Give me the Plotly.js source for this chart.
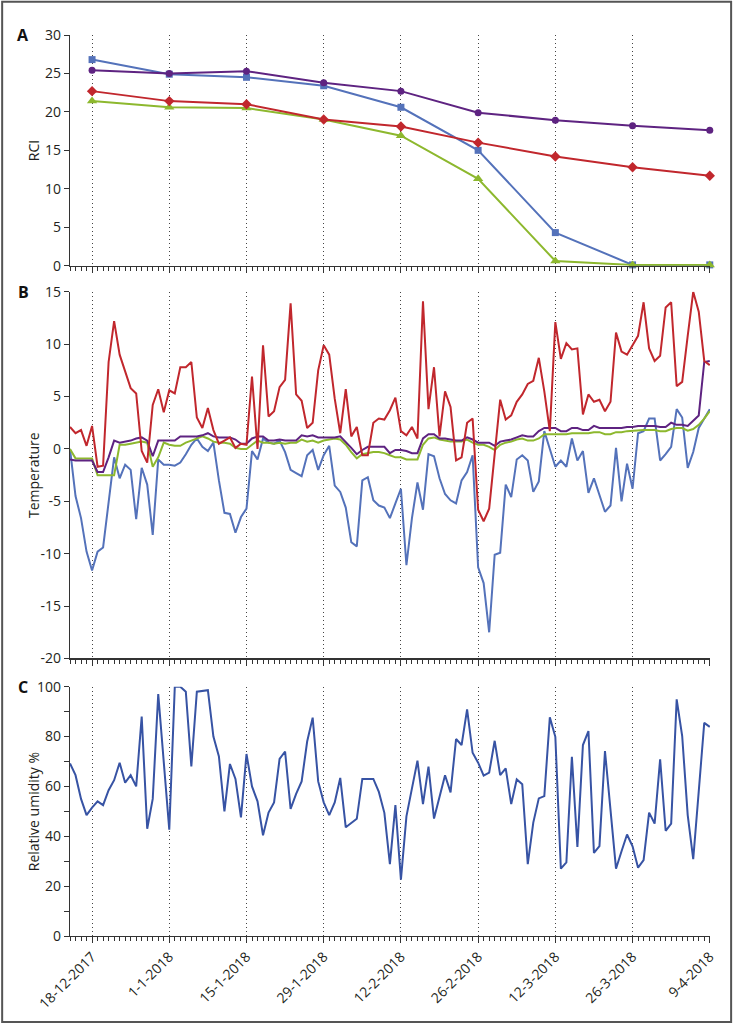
<!DOCTYPE html>
<html>
<head>
<meta charset="utf-8">
<script src="https://cdn.plot.ly/plotly-3.0.1.min.js"></script>
<style>
  html, body { margin: 0; padding: 0; background: #fff; }
  #chart { width: 733px; height: 1025px; }
</style>
</head>
<body>
<div id="chart"></div>
<script>
// ---------- DATA ----------
const rciDates = ['2017-12-18','2018-01-01','2018-01-15','2018-01-29','2018-02-12','2018-02-26','2018-03-12','2018-03-26','2018-04-09'];
const rciBlue   = [26.8, 24.9, 24.5, 23.4, 20.6, 15.0, 4.3, 0.1, 0.1];
const rciPurple = [25.4, 25.0, 25.3, 23.8, 22.7, 19.9, 18.9, 18.2, 17.6];
const rciRed    = [22.7, 21.4, 21.0, 19.0, 18.1, 16.0, 14.2, 12.8, 11.7];
const rciGreen  = [21.4, 20.6, 20.5, 19.0, 16.9, 11.3, 0.6, 0.1, 0.1];

const firstDay = '2017-12-14';
const dayCount = 117;

const tempRed = [2.1,1.5,1.8,0.3,2.2,-1.7,-1.6,8.3,12.2,9.0,
 7.4,5.8,5.3,-0.2,-1.3,4.2,5.7,3.5,5.6,5.3,
 7.8,7.8,8.3,3.0,2.0,3.9,1.8,0.5,0.8,1.1,
 0.1,0.5,0.4,6.9,0.0,9.9,3.1,3.6,5.9,6.6,
 13.9,5.2,4.6,2.0,2.5,7.5,9.9,9.0,4.8,1.5,
 5.7,1.2,2.1,-0.6,-0.6,2.5,2.9,2.8,3.7,4.9,
 1.7,1.3,2.1,1.0,14.1,3.8,7.8,1.2,5.5,4.0,
 -1.1,-0.8,2.5,2.9,-5.8,-6.9,-5.7,-0.5,4.7,2.8,
 3.2,4.5,5.2,6.2,6.5,8.7,5.5,1.7,12.1,8.6,
 10.1,9.5,9.6,3.3,5.2,4.5,4.7,3.6,4.5,11.1,
 9.3,9.0,9.9,10.8,14.0,9.6,8.4,8.9,13.5,14.0,
 6.0,6.4,10.8,15.0,13.1,8.4,8.0];

const tempBlue = [0.0,-4.5,-6.6,-9.8,-11.6,-9.8,-9.4,-4.8,-0.8,-2.8,
 -1.5,-2.0,-6.7,-1.8,-3.4,-8.2,-1.0,-1.5,-1.5,-1.6,
 -1.3,-0.5,0.4,1.0,0.2,-0.2,0.6,-3.0,-6.1,-6.2,
 -8.0,-6.5,-5.7,-0.2,-1.0,1.0,0.6,0.5,0.8,-0.3,
 -2.0,-2.3,-2.6,-0.6,-0.1,-2.0,-0.6,0.3,-3.5,-4.1,
 -5.6,-8.9,-9.3,-3.0,-2.7,-4.9,-5.4,-5.6,-6.6,-5.2,
 -3.8,-11.1,-6.6,-3.2,-5.8,-0.5,-0.7,-2.8,-4.3,-4.9,
 -5.2,-3.0,-2.2,-0.6,-11.3,-12.8,-17.5,-10.1,-9.9,-3.4,
 -4.6,-1.0,-0.6,-1.1,-4.1,-3.1,1.7,0.0,-1.7,-1.1,
 -1.7,1.0,-1.1,-0.2,-4.2,-2.8,-4.5,-6.0,-5.4,0.1,
 -5.0,-1.4,-3.8,1.5,1.7,2.9,2.9,-1.1,-0.5,0.2,
 3.8,3.0,-1.8,-0.3,2.0,2.9,3.8];

const tempPurple = [-1.0,-1.1,-1.1,-1.1,-1.1,-2.2,-2.2,-0.8,0.8,0.6,
 0.7,0.8,1.0,1.1,0.8,-0.7,0.8,0.8,0.8,0.8,
 1.2,1.2,1.2,1.2,1.3,1.5,1.2,1.1,1.1,1.1,
 0.9,0.5,0.5,1.0,1.2,1.2,0.8,0.8,0.9,0.8,
 0.8,0.8,1.3,1.2,1.3,1.1,1.1,1.1,1.1,1.2,
 0.7,0.1,-0.5,-0.1,0.2,0.2,0.2,0.2,-0.4,-0.1,
 -0.1,-0.2,-0.4,-0.4,1.0,1.4,1.4,1.0,1.0,0.9,
 0.8,0.8,1.1,0.9,0.6,0.6,0.6,0.3,0.7,0.8,
 0.9,1.1,1.3,1.2,1.2,1.7,2.0,2.0,2.0,1.7,
 1.7,2.0,2.0,1.8,1.8,2.2,2.0,2.0,2.0,2.0,
 2.0,2.1,2.1,2.2,2.2,2.2,2.2,2.1,2.1,2.5,
 2.3,2.3,2.2,2.7,3.2,8.3,8.4];

const tempGreen = [0.0,-0.9,-0.9,-0.9,-0.9,-2.5,-2.5,-2.5,-2.5,0.4,
 0.4,0.5,0.6,0.7,0.6,-1.7,-0.8,0.6,0.4,0.3,
 0.3,0.6,0.8,1.0,1.2,1.0,0.7,0.6,0.6,0.5,
 0.1,0.0,0.0,0.4,0.8,0.6,0.6,0.5,0.6,0.5,
 0.6,0.6,0.9,0.7,0.8,0.6,0.8,0.9,1.0,0.9,
 0.4,-0.3,-0.9,-0.5,-0.4,-0.3,-0.3,-0.4,-0.6,-0.8,
 -0.8,-1.0,-1.0,-1.0,0.4,1.0,1.1,0.9,0.8,0.7,
 0.7,0.7,0.9,0.6,0.4,0.4,0.2,-0.1,0.4,0.6,
 0.7,0.9,1.0,0.8,0.8,1.0,1.4,1.4,1.4,1.4,
 1.4,1.5,1.5,1.5,1.5,1.6,1.6,1.4,1.4,1.6,
 1.6,1.7,1.75,1.8,1.8,1.8,1.8,1.7,1.7,1.9,
 2.0,2.0,1.75,1.9,2.3,2.9,3.6];

const humidity = [69.2,64.5,55,48.5,51.5,54,52.5,58.5,62.5,69.5,
 61.5,64.5,60,88,43,55,97,70,42.6,100,
 100,98,68,98,98.3,98.6,80,72,50,69,
 63,47.6,73,60,54,40.4,49.5,53.6,71,74,
 51,57,62,78,87.6,62,53.6,48.5,53.6,63.4,
 43.6,45.3,47,63,63,63,57.8,49.4,28.8,52.5,
 22.6,48,59.2,70.3,52.9,67.9,47.1,55.8,64.5,57.6,
 79,76.6,90.9,73.5,69.5,64.3,65.5,78.3,64.5,67.2,
 52.9,62.8,60.9,28.8,45.5,55.2,56.1,87.7,79.9,27,
 29.5,71.9,35.7,76.6,82.2,33.3,36.1,74.2,48.9,27,
 34,40.7,36,27.4,30.4,49.5,45.1,70.9,42.2,45.1,
 94.9,80.2,48.5,30.8,58,85.5,83.9];

const tempTickVals = [-20,-15,-10,-5,0,5,10,15];
const tempTickText = ['-20','-15','-10','-5','0','5','10','15'];

// ---------- BUILD ----------
const days = [];
{
  const t0 = Date.parse(firstDay + 'T00:00:00Z');
  for (let i = 0; i < dayCount; i++) days.push(new Date(t0 + i * 86400000).toISOString().slice(0, 10));
}

const C = { red:'#c1272d', blue:'#5472ba', purple:'#5e2381', green:'#8db82e', hum:'#3753a4', ax:'#333333', txt:'#231f20' };
const FONT = 'Open Sans, Noto Sans, sans-serif';

const traces = [
  {x: rciDates, y: rciBlue, xaxis:'x', yaxis:'y', mode:'lines+markers', cliponaxis:false,
   line:{color:C.blue, width:2}, marker:{symbol:'square', size:7, color:C.blue}},
  {x: rciDates, y: rciGreen, xaxis:'x', yaxis:'y', mode:'lines+markers', cliponaxis:false,
   line:{color:C.green, width:2}, marker:{symbol:'triangle-up', size:9, color:C.green}},
  {x: rciDates, y: rciRed, xaxis:'x', yaxis:'y', mode:'lines+markers', cliponaxis:false,
   line:{color:C.red, width:2}, marker:{symbol:'diamond', size:8, color:C.red}},
  {x: rciDates, y: rciPurple, xaxis:'x', yaxis:'y', mode:'lines+markers', cliponaxis:false,
   line:{color:C.purple, width:2}, marker:{symbol:'circle', size:7, color:C.purple}},

  {x: days, y: tempBlue, xaxis:'x2', yaxis:'y2', mode:'lines', line:{color:C.blue, width:2}},
  {x: days, y: tempGreen, xaxis:'x2', yaxis:'y2', mode:'lines', line:{color:C.green, width:2}},
  {x: days, y: tempPurple, xaxis:'x2', yaxis:'y2', mode:'lines', line:{color:C.purple, width:2}},
  {x: days, y: tempRed, xaxis:'x2', yaxis:'y2', mode:'lines', line:{color:C.red, width:2}},

  {x: days, y: humidity, xaxis:'x3', yaxis:'y3', mode:'lines', line:{color:C.hum, width:2}}
];

function xAxis(anchor, labels) {
  return {
    type:'date', anchor: anchor,
    range:['2017-12-14', '2018-04-09 01:00'],
    tick0:'2017-12-18', dtick: 14 * 86400000,
    tickformat:'%-d-%-m-%Y', tickangle:-45,
    showticklabels: labels,
    ticks:'outside', ticklen:6, tickwidth:1, tickcolor:C.ax,
    showline:true, linecolor:C.ax, linewidth:1.2,
    showgrid:true, griddash:'1px,3px', gridcolor:'#444444', gridwidth:1,
    zeroline:false,
    minor:{dtick:86400000, ticks:'outside', ticklen:4, tickwidth:1, tickcolor:C.ax, showgrid:false},
    tickfont:{family:FONT, size:14, color:C.txt}
  };
}
function yAxis(anchor, domain, range, extra) {
  return Object.assign({
    anchor: anchor, domain: domain, range: range,
    ticks:'outside', ticklen:5, tickwidth:1, tickcolor:C.ax,
    showline:true, linecolor:C.ax, linewidth:1.2,
    showgrid:false, zeroline:false,
    tickfont:{family:FONT, size:14, color:C.txt}
  }, extra || {});
}

const layout = {
  width:733, height:1025,
  margin:{l:70, r:23, t:35, b:89},
  paper_bgcolor:'#ffffff', plot_bgcolor:'rgba(0,0,0,0)',
  showlegend:false,
  font:{family:FONT, size:14, color:C.txt},
  xaxis: xAxis('y', false),
  xaxis2: Object.assign(xAxis('y2', false), {matches:'x'}),
  xaxis3: Object.assign(xAxis('y3', true), {matches:'x'}),
  yaxis: yAxis('x', [0.744, 1], [0, 30], {dtick:5, tick0:0}),
  yaxis2: yAxis('x2', [0.308, 0.715], [-20, 15], {tickmode:'array', tickvals:tempTickVals, ticktext:tempTickText}),
  yaxis3: yAxis('x3', [0, 0.2767], [0, 100], {dtick:20, tick0:0,
           minor:{dtick:10, ticks:'outside', ticklen:5, tickwidth:1, tickcolor:C.ax, showgrid:false}}),
  annotations: [
    {text:'RCI', xref:'paper', yref:'y domain', x:-0.058, y:0.5, textangle:-90, showarrow:false, xanchor:'center', yanchor:'middle', font:{family:FONT, size:14, color:C.txt}},
    {text:'Temperature', xref:'paper', yref:'y2 domain', x:-0.058, y:0.5, textangle:-90, showarrow:false, xanchor:'center', yanchor:'middle', font:{family:FONT, size:14, color:C.txt}},
    {text:'Relative umidity %', xref:'paper', yref:'y3 domain', x:-0.058, y:0.5, textangle:-90, showarrow:false, xanchor:'center', yanchor:'middle', font:{family:FONT, size:14, color:C.txt}},
    {text:'<b>A</b>', xref:'paper', yref:'y domain', x:-0.0734, y:1, showarrow:false, xanchor:'center', yanchor:'middle', font:{family:FONT, size:16, color:'#111'}},
    {text:'<b>B</b>', xref:'paper', yref:'y2 domain', x:-0.0734, y:1, showarrow:false, xanchor:'center', yanchor:'middle', font:{family:FONT, size:16, color:'#111'}},
    {text:'<b>C</b>', xref:'paper', yref:'y3 domain', x:-0.0734, y:1, showarrow:false, xanchor:'center', yanchor:'middle', font:{family:FONT, size:16, color:'#111'}}
  ],
  shapes: [
    {type:'rect', xref:'paper', yref:'paper', x0:-0.106, x1:1.033, y0:-0.0954, y1:1.037,
     line:{color:'#555555', width:2}, fillcolor:'rgba(0,0,0,0)', layer:'below'}
  ]
};

Plotly.newPlot('chart', traces, layout, {displayModeBar:false, staticPlot:true});
</script>
</body>
</html>
